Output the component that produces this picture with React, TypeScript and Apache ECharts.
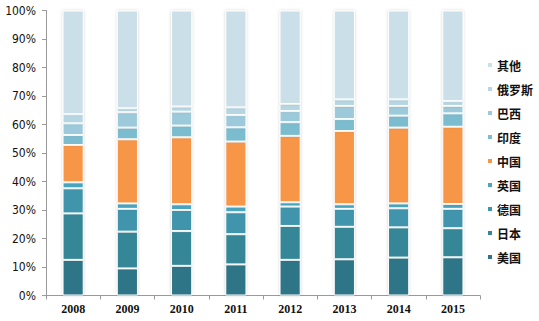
import React, { useEffect, useRef } from "react";
import * as echarts from "echarts";

const years = ["2008", "2009", "2010", "2011", "2012", "2013", "2014", "2015"];
const seriesNames = ["美国", "日本", "德国", "英国", "中国", "印度", "巴西", "俄罗斯", "其他"];
const usa = [12.5, 9.5, 10.4, 10.9, 12.5, 12.7, 13.3, 13.4];
const japan = [16.3, 12.9, 12.2, 10.6, 11.9, 11.4, 10.6, 10.2];
const germany = [8.8, 8.0, 7.4, 7.7, 6.8, 6.3, 6.7, 6.8];
const uk = [2.1, 1.9, 2.0, 2.0, 1.5, 1.6, 1.7, 1.7];
const china = [13.1, 22.5, 23.5, 22.8, 23.3, 25.7, 26.6, 27.1];
const india = [3.5, 4.1, 4.1, 5.0, 4.8, 4.2, 4.2, 4.7];
const brazil = [4.1, 5.4, 4.9, 4.3, 3.9, 4.6, 3.4, 2.6];
const russia = [3.2, 1.4, 1.8, 2.7, 2.5, 2.3, 2.3, 1.7];
const others = [36.4, 34.3, 33.7, 34.0, 32.8, 31.2, 31.2, 31.8];
const yTicks = ["0%", "10%", "20%", "30%", "40%", "50%", "60%", "70%", "80%", "90%", "100%"];

const allData = [usa, japan, germany, uk, china, india, brazil, russia, others];
const colors = ["#2f7487", "#358797", "#3f95ac", "#4aa5c0", "#f79646", "#7bbccf", "#9ccadb", "#b5d6e2", "#cadfe7"];

export default function App() {
  const ref = useRef<HTMLDivElement>(null);
  useEffect(() => {
    if (!ref.current) return;
    const chart = echarts.init(ref.current, null, { renderer: "svg" });
    chart.setOption({
      animation: false,
      backgroundColor: "#ffffff",
      grid: { left: 46, right: 59, top: 10.5, bottom: 25.5 },
      legend: {
        orient: "vertical",
        left: 481,
        top: 53,
        icon: "rect",
        itemWidth: 6,
        itemHeight: 6,
        itemGap: 10,
        data: [...seriesNames].reverse(),
        textStyle: { fontSize: 12, lineHeight: 14, color: "#111", fontFamily: "Noto Sans CJK SC", fontWeight: "bold", padding: [0, 0, 0, -1] },
      },
      xAxis: {
        type: "category",
        data: years,
        axisLine: { lineStyle: { color: "#9a9a9a" } },
        axisTick: { show: true, length: 4, lineStyle: { color: "#9a9a9a" } },
        axisLabel: { fontSize: 12, color: "#111", fontFamily: "Liberation Serif", fontWeight: "bold", margin: 7 },
      },
      yAxis: {
        type: "value",
        min: 0,
        max: 100,
        interval: 10,
        splitLine: { show: false },
        axisLine: { show: true, lineStyle: { color: "#9a9a9a" } },
        axisTick: { show: true, length: 4, lineStyle: { color: "#9a9a9a" } },
        axisLabel: {
          fontSize: 12,
          color: "#111",
          fontFamily: "DejaVu Sans Condensed",
          margin: 10,
          formatter: (v: number) => yTicks[Math.round(v / 10)],
        },
      },
      series: seriesNames.map((name, i) => ({
        name,
        type: "bar",
        stack: "total",
        barWidth: "39%",
        data: allData[i],
        itemStyle: {
          color: colors[i],
          borderColor: "#ffffff",
          borderWidth: 1,
          shadowColor: "rgba(0,0,0,0.18)",
          shadowBlur: 3,
        },
      })),
    });
    return () => chart.dispose();
  }, []);
  return <div ref={ref} style={{ width: 539, height: 321, position: "absolute", left: 0, top: 0 }} />;
}
